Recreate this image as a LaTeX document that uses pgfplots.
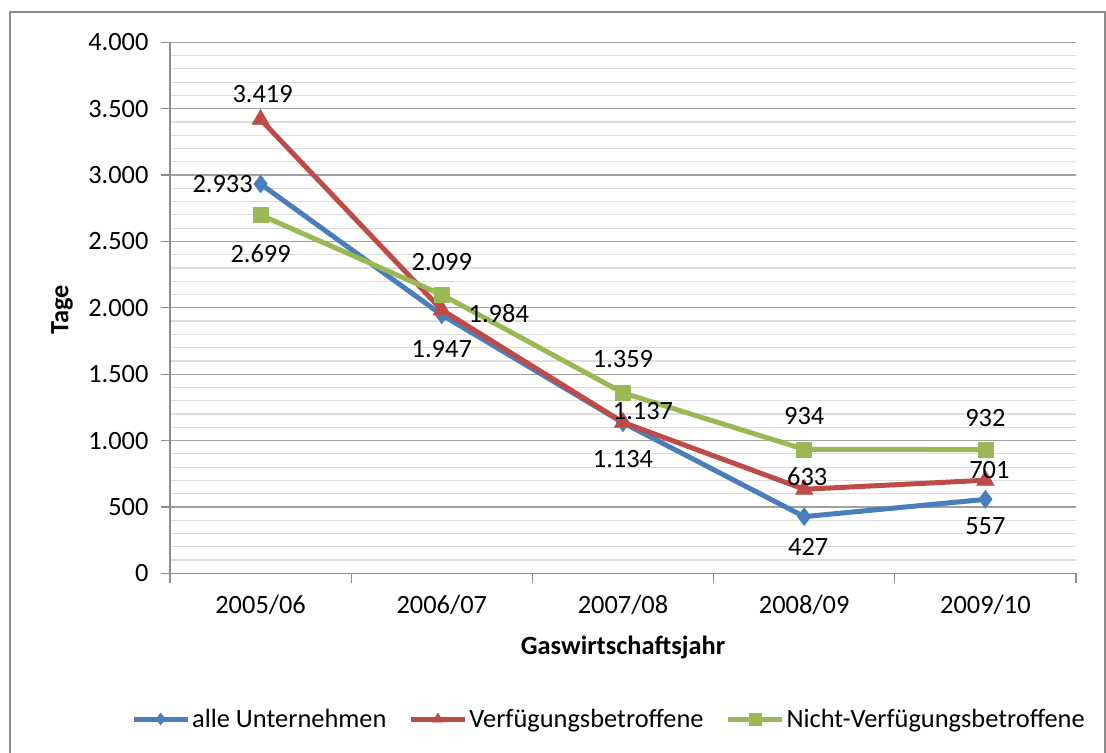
\documentclass[border=0pt]{standalone}
\usepackage{pgfplots}
\pgfplotsset{compat=1.18}
\usepackage{pgfplotstable}
\usepackage{fontspec}
\setmainfont{Carlito}
\newcommand\fs{\fontsize{26.5}{31}\selectfont}
\definecolor{cblue}{HTML}{4A7EBB}
\definecolor{cred}{HTML}{BE4B48}
\definecolor{cgreen}{HTML}{98B954}
\definecolor{majgrid}{HTML}{A0A0A0}
\definecolor{mingrid}{HTML}{DDDDDD}
\definecolor{axgray}{HTML}{8C8C8C}

\pgfplotstableread{
x y lab dx dy
0 2933 2.933 -38 0
1 1947 1.947 0 -34
2 1134 1.134 0 -36
3 427 427 4 -30
4 557 557 0 -27
}\tblue
\pgfplotstableread{
x y lab dx dy
0 3419 3.419 2 25
1 1984 1.984 57 -4
2 1137 1.137 20 11
3 633 633 3 13
4 701 701 4 10
}\tred
\pgfplotstableread{
x y lab dx dy
0 2699 2.699 0 -39
1 2099 2.099 0 33
2 1359 1.359 0 34
3 934 934 0 33
4 932 932 0 32
}\tgreen

\begin{document}
\begin{tikzpicture}
\useasboundingbox (0,0) rectangle (1106bp,-753bp);
\draw[axgray, line width=2bp] (10bp,-770bp) -- (10bp,-12bp) -- (1105bp,-12bp) -- (1105bp,-770bp);
\begin{axis}[
  at={(170bp,-573.3bp)}, anchor=south west,
  scale only axis, width=906bp, height=531bp,
  font=\fs,
  xmin=-0.5, xmax=4.5, ymin=0, ymax=4000,
  axis lines=left, axis line style={-, draw=axgray, line width=1.2bp},
  xtick={0,1,2,3,4},
  xticklabels={2005/06,2006/07,2007/08,2008/09,2009/10},
  xtick style={draw=none},
  extra x ticks={-0.5,0.5,1.5,2.5,3.5,4.5},
  extra x tick labels={},
  extra x tick style={tick align=outside, major tick length=10bp, xtick style={draw=axgray, line width=1.2bp}, grid=none},
  ytick={0,500,...,4000},
  yticklabels={0,500,{1.000},{1.500},{2.000},{2.500},{3.000},{3.500},{4.000}},
  minor y tick num=4,
  tick align=outside, major tick length=9bp,
  ytick style={draw=axgray, line width=1.2bp},
  minor tick length=0pt,
  ymajorgrids, yminorgrids,
  major grid style={majgrid, line width=1.2bp},
  minor grid style={mingrid, line width=1.2bp},
  xticklabel style={font=\fs, yshift=-9bp},
  yticklabel style={font=\fs, xshift=-9bp},
  xlabel={\textbf{Gaswirtschaftsjahr}},
  ylabel={\textbf{Tage}},
  xlabel style={at={(axis description cs:0.5,-0.1406)}, anchor=center, font=\fs},
  ylabel style={at={(axis description cs:-0.1192,0.4958)}, anchor=center, rotate=0, font=\fs},
  clip=false,
  point meta=explicit symbolic,
  nodes near coords,
  visualization depends on={\thisrow{dx}\as\ldx},
  visualization depends on={\thisrow{dy}\as\ldy},
  nodes near coords style={anchor=center, xshift=\ldx bp, yshift=\ldy bp, font=\fs, text=black, inner sep=0pt},
  legend columns=3,
  legend style={draw=none, at={(0.4845,-0.2744)}, anchor=center, font=\fs,
    /tikz/every even column/.append style={column sep=20bp},
    nodes={inner sep=2bp}},
  legend image code/.code={\draw[mark repeat=2,mark phase=2,line width=5bp,mark size=6bp] plot coordinates {(0bp,0bp)(27bp,0bp)(54bp,0bp)};},
]
\addplot[color=cblue, line width=5bp, mark=diamond*, mark size=9bp, mark options={solid, line width=0.5bp}] table[x=x,y=y,meta=lab] {\tblue};
\addlegendentry{alle Unternehmen}
\addplot[color=cred, line width=5bp, mark=triangle*, mark size=10bp, mark options={solid, line width=0.5bp}] table[x=x,y=y,meta=lab] {\tred};
\addlegendentry{Verfügungsbetroffene}
\addplot[color=cgreen, line width=5bp, mark=square*, mark size=7.5bp, mark options={solid, line width=0.5bp}] table[x=x,y=y,meta=lab] {\tgreen};
\addlegendentry{Nicht-Verfügungsbetroffene}
\end{axis}
\end{tikzpicture}
\end{document}
